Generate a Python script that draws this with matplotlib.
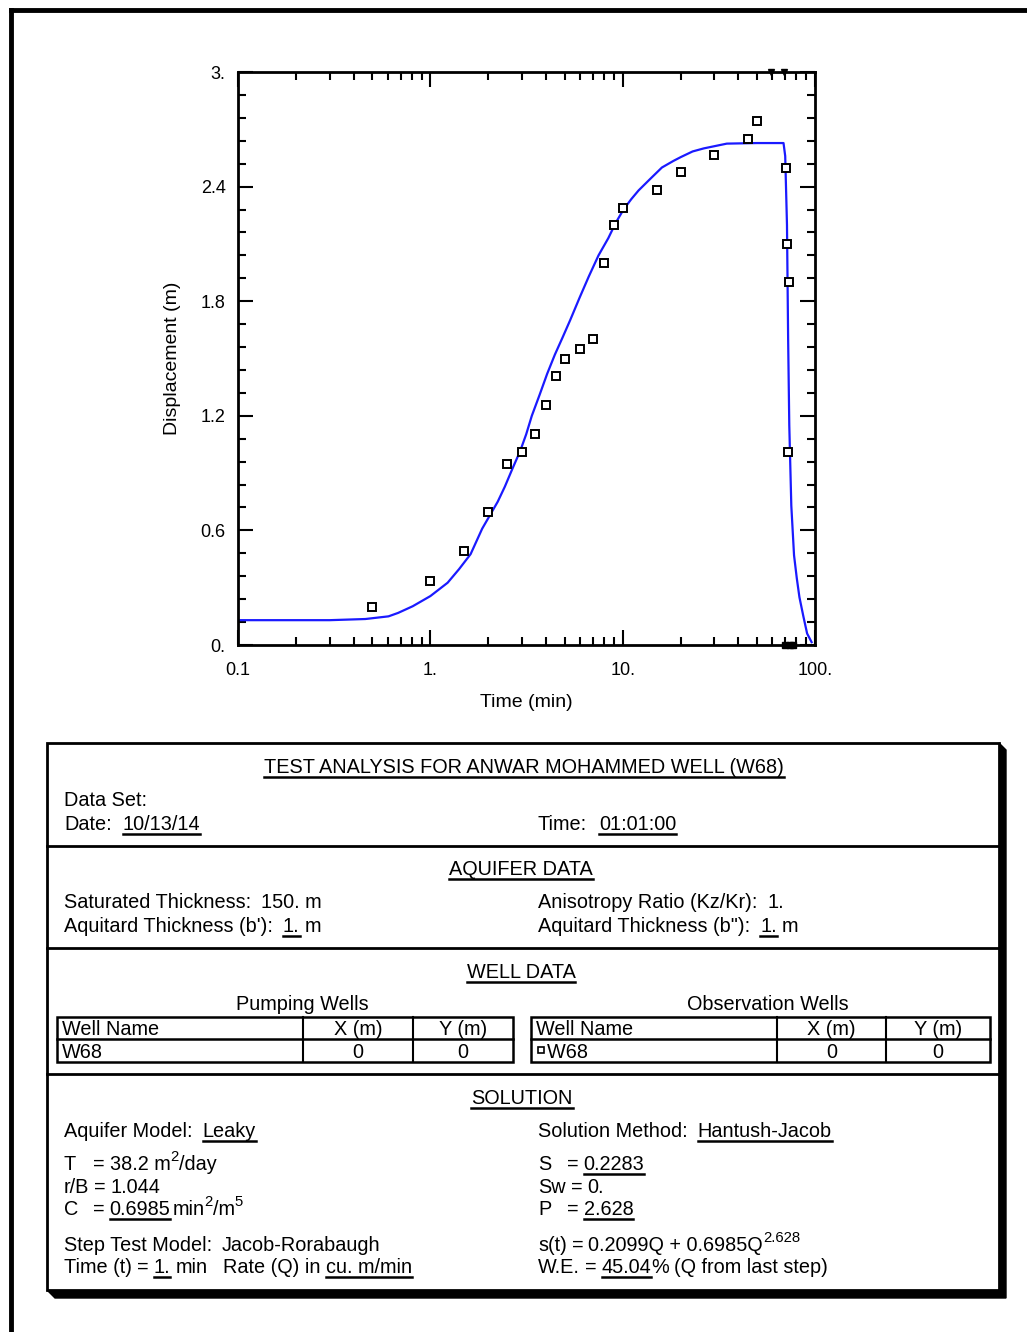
import matplotlib.pyplot as plt
from matplotlib.patches import Rectangle, Polygon

plt.rcParams['font.family'] = ['Liberation Sans', 'DejaVu Sans']

# fitted Hantush-Jacob curve (time in min, displacement in m)
t_fit = [0.1, 0.3, 0.459, 0.606, 0.68, 0.81, 1.0, 1.23, 1.41, 1.62, 1.86, 2.24, 2.44,
         2.68, 2.93, 3.15, 3.37, 3.70, 4.05, 4.44, 4.87, 5.33, 5.98, 6.67, 7.49, 8.42,
         9.2, 10.1, 11.1, 12.1, 13.9, 16.0, 18.4, 20.1, 23.1, 26.4, 34.8, 50.0, 68.6,
         70.0, 71.5, 72.5, 73.5, 75.3, 77.8, 80.4, 83.0, 87.0, 91.0, 96.0]
s_fit = [0.13, 0.13, 0.136, 0.150, 0.168, 0.203, 0.256, 0.326, 0.397, 0.476, 0.609,
         0.75, 0.829, 0.926, 1.015, 1.103, 1.20, 1.31, 1.42, 1.52, 1.61, 1.70,
         1.82, 1.93, 2.04, 2.13, 2.21, 2.28, 2.335, 2.38, 2.44, 2.50, 2.535,
         2.555, 2.584, 2.60, 2.625, 2.628, 2.628, 2.56, 2.2, 1.6, 1.15, 0.73, 0.47,
         0.35, 0.25, 0.15, 0.06, 0.015]

# observed drawdown in W68
t_obs = [0.5, 1.0, 1.5, 2.0, 2.5, 3.0, 3.5, 4.0, 4.5, 5.0, 6.0, 7.0, 8.0, 9.0, 10.0,
         15.0, 20.0, 30.0, 45.0, 50.0, 71.0, 71.5, 73.0, 72.5]
s_obs = [0.2, 0.335, 0.494, 0.695, 0.948, 1.009, 1.105, 1.255, 1.406, 1.5, 1.55, 1.6,
         2.0, 2.2, 2.288, 2.38, 2.475, 2.563, 2.65, 2.746, 2.5, 2.1, 1.9, 1.009]
t_low = [70.0, 74.0, 77.0]
s_low = [0.0, 0.0, 0.0]
t_high = [59.0, 69.0]
s_high = [3.0, 3.0]

y_ticks = [0, 0.6, 1.2, 1.8, 2.4, 3.0]
y_ticklabels = ['0.', '0.6', '1.2', '1.8', '2.4', '3.']
x_ticks = [0.1, 1, 10, 100]
x_ticklabels = ['0.1', '1.', '10.', '100.']

W, H = 1027, 1332
fig = plt.figure(figsize=(W / 100, H / 100), dpi=100)

# overlay in pixel coordinates for frame and report table
ov = fig.add_axes([0, 0, 1, 1], zorder=0)
ov.set_xlim(0, W)
ov.set_ylim(H, 0)
ov.axis('off')

ax = fig.add_axes([238 / W, 1 - 645 / H, 577 / W, 573 / H], zorder=2)
ax.set_xscale('log')
ax.set_xlim(0.1, 100)
ax.set_ylim(0, 3)
ax.plot(t_fit, s_fit, color='#1a1aff', lw=1.6, zorder=2)
ax.plot(t_obs, s_obs, ls='none', marker='s', ms=5.5, mfc='white', mec='black', mew=1.4, zorder=3)
ax.plot(t_low, s_low, ls='none', marker='s', ms=5, mfc='black', mec='black', clip_on=False, zorder=3)
ax.plot(t_high, s_high, ls='none', marker='v', ms=5, color='black', clip_on=False, zorder=3)

ax.set_yticks(y_ticks)
ax.set_yticklabels(y_ticklabels)
ax.set_yticks([i * 0.12 for i in range(26)], minor=True)
ax.set_xticks(x_ticks)
ax.set_xticklabels(x_ticklabels)
ax.tick_params(which='both', direction='in', top=True, right=True, width=1.5, labelsize=13)
ax.tick_params(which='major', length=11)
ax.tick_params(which='minor', length=6)
ax.tick_params(axis='x', which='major', pad=12)
ax.tick_params(axis='y', which='major', pad=9)
for sp in ax.spines.values():
    sp.set_linewidth(2)
ax.set_xlabel('Time (min)', fontsize=14, labelpad=11)
ax.set_ylabel('Displacement (m)', fontsize=14, labelpad=14)

# page frame
ov.plot([11, W], [10, 10], color='black', lw=3.5, solid_capstyle='projecting')
ov.plot([11, 11], [10, H], color='black', lw=3.5)

# report box with shadow
ov.add_patch(Polygon([(55, 1298), (1006, 1298), (1006, 750), (999, 743), (999, 1290), (47, 1290)],
                     closed=True, color='black', zorder=1))
ov.add_patch(Rectangle((47, 743), 952, 547, fc='white', ec='black', lw=2, zorder=2))
for yy in [846, 948, 1074]:
    ov.plot([47, 999], [yy, yy], color='black', lw=2, zorder=3)

fig.canvas.draw()
rend = fig.canvas.get_renderer()
FS = 14.3


def put(x, y, parts, ha='left'):
    # parts: strings, (string, 'u') underlined, (string, 'sup'), or numbers for gaps
    items = []
    for p in parts:
        if isinstance(p, (int, float)):
            items.append(('gap', p))
            continue
        if isinstance(p, str):
            p = (p, '')
        s, flag = p
        size = FS * 0.75 if flag == 'sup' else FS
        t = ov.text(0, 0, s, fontsize=size, va='baseline', ha='left', zorder=4)
        w = t.get_window_extent(rend).width
        items.append((t, flag, w))
    total = sum(i[1] if i[0] == 'gap' else i[2] for i in items)
    if ha == 'center':
        x = x - total / 2
    for it in items:
        if it[0] == 'gap':
            x += it[1]
            continue
        t, flag, w = it
        t.set_position((x, y - 9 if flag == 'sup' else y))
        if flag == 'u':
            ov.plot([x, x + w], [y + 4, y + 4], color='black', lw=1.8, zorder=4)
        x += w


put(524, 773, [('TEST ANALYSIS FOR ANWAR MOHAMMED WELL (W68)', 'u')], ha='center')
put(64, 806, ['Data Set:'])
put(64, 830, ['Date:', 11, ('10/13/14', 'u')])
put(538, 830, ['Time:', 12, ('01:01:00', 'u')])

put(521, 875, [('AQUIFER DATA', 'u')], ha='center')
put(64, 908, ['Saturated Thickness:', 10, '150. m'])
put(64, 932, ["Aquitard Thickness (b'):", 10, ('1.', 'u'), 5, 'm'])
put(538, 908, ['Anisotropy Ratio (Kz/Kr):', 10, '1.'])
put(538, 932, ['Aquitard Thickness (b"):', 10, ('1.', 'u'), 5, 'm'])

put(521, 978, [('WELL DATA', 'u')], ha='center')
put(302, 1010, ['Pumping Wells'], ha='center')
put(768, 1010, ['Observation Wells'], ha='center')

for x0, c1, c2, x1, name in [(57, 303, 413, 513, 'W68'), (531, 777, 886, 990, '  W68')]:
    ov.add_patch(Rectangle((x0, 1017), x1 - x0, 45, fc='none', ec='black', lw=1.8, zorder=3))
    ov.plot([x0, x1], [1039, 1039], color='black', lw=1.8, zorder=3)
    ov.plot([c1, c1], [1017, 1062], color='black', lw=1.5, zorder=3)
    ov.plot([c2, c2], [1017, 1062], color='black', lw=1.5, zorder=3)
    put(x0 + 5, 1035, ['Well Name'])
    put((c1 + c2) / 2, 1035, ['X (m)'], ha='center')
    put((c2 + x1) / 2, 1035, ['Y (m)'], ha='center')
    put(x0 + 5, 1058, [name])
    put((c1 + c2) / 2, 1058, ['0'], ha='center')
    put((c2 + x1) / 2, 1058, ['0'], ha='center')
ov.plot([541], [1050], marker='s', ms=4, mfc='white', mec='black', mew=1.2, zorder=4)

put(522, 1104, [('SOLUTION', 'u')], ha='center')
put(64, 1137, ['Aquifer Model:', 10, ('Leaky', 'u')])
put(538, 1137, ['Solution Method:', 10, ('Hantush-Jacob', 'u')])

put(64, 1170, ['T'])
put(93, 1170, ['=', 5, '38.2 m', ('2', 'sup'), '/day'])
put(64, 1193, ['r/B', 5, '=', 5, '1.044'])
put(64, 1215, ['C'])
put(93, 1215, ['=', 5, ('0.6985', 'u'), 2, 'min', ('2', 'sup'), '/m', ('5', 'sup')])

put(538, 1170, ['S'])
put(567, 1170, ['=', 5, ('0.2283', 'u')])
put(538, 1193, ['Sw', 5, '=', 5, '0.'])
put(538, 1215, ['P'])
put(567, 1215, ['=', 5, ('2.628', 'u')])

put(64, 1251, ['Step Test Model:', 10, 'Jacob-Rorabaugh'])
put(64, 1273, ['Time (t)', 5, '=', 5, ('1.', 'u'), 5, 'min', 16, 'Rate (Q) in', 5, ('cu. m/min', 'u')])
put(538, 1251, ['s(t)', 5, '=', 5, '0.2099Q + 0.6985Q', ('2.628', 'sup')])
put(538, 1273, ['W.E.', 5, '=', 5, ('45.04', 'u'), '%', 5, '(Q from last step)'])

fig.savefig('out.png', dpi=100)
